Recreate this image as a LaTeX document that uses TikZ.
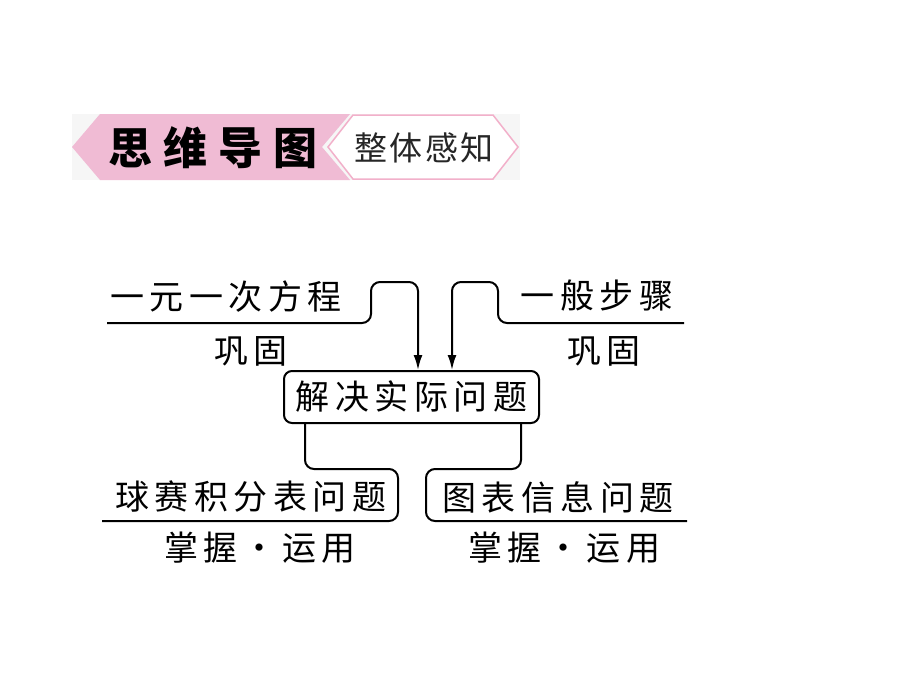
\documentclass[tikz,border=0pt]{standalone}
\usepackage{fontspec}
\setmainfont{Noto Sans CJK SC}
\usetikzlibrary{arrows.meta}
\definecolor{bannerpink}{RGB}{240,187,212}
\definecolor{hexpink}{RGB}{242,176,202}
\definecolor{bggray}{RGB}{246,246,246}
\newcommand\gp{\hspace{5.5pt}}
\tikzset{
  txt/.style={inner sep=0pt, font=\fontsize{34pt}{40pt}\selectfont},
  conn/.style={line width=2pt, rounded corners=9pt},
  arr/.style={conn, -{Latex[length=15pt,width=9pt]}},
  mainbox/.style={txt, draw, line width=2pt, rounded corners=8pt, minimum width=255pt, minimum height=52pt}
}
\begin{document}
\begin{tikzpicture}[x=1pt,y=-1pt]
\useasboundingbox (0,0) rectangle (900,675);
\fill[white] (0,0) rectangle (900,675);
% banner
\fill[bggray] (72,114) rectangle (520,180);
\fill[bannerpink] (72,147) -- (100,114) -- (350,114) -- (322,147) -- (350,180) -- (100,180) -- cycle;
\draw[hexpink, line width=1.5pt, fill=white] (328,147) -- (353,115) -- (493,115) -- (518,147) -- (493,179) -- (353,179) -- cycle;
\node[inner sep=0pt, font=\fontsize{44pt}{50pt}\selectfont\bfseries] (ban1) at (213,148) {思\hspace{11pt}维\hspace{11pt}导\hspace{11pt}图};
\node[inner sep=0pt, font=\fontsize{33pt}{38pt}\selectfont, text=black!85] (ban2) at (424,148) {整\hspace{2.5pt}体\hspace{2.5pt}感\hspace{2.5pt}知};
% texts
\node[txt] (t1) at (226,297) {一\gp 元\gp 一\gp 次\gp 方\gp 程};
\node[txt] (t2) at (251,351) {巩\gp 固};
\node[txt] (t3) at (597,296) {一\gp 般\gp 步\gp 骤};
\node[txt] (t4) at (604,351) {巩\gp 固};
\node[mainbox] (box) at (411.5,397) {解\gp 决\gp 实\gp 际\gp 问\gp 题};
\node[txt] (t5) at (251,497) {球\gp 赛\gp 积\gp 分\gp 表\gp 问\gp 题};
\node[txt] (t6) at (558,497) {图\gp 表\gp 信\gp 息\gp 问\gp 题};
\node[txt] (t7) at (260,548) {掌\gp 握\makebox[45pt]{•}运\gp 用};
\node[txt] (t8) at (564,548) {掌\gp 握\makebox[45pt]{•}运\gp 用};
% connector points
\coordinate (lA) at (107,323);
\coordinate (lB) at (371,323);
\coordinate (lC) at (371,282);
\coordinate (lD) at (418,282);
\coordinate (rA) at (684,323);
\coordinate (rB) at (498,323);
\coordinate (rC) at (498,282);
\coordinate (rD) at (452,282);
\coordinate (bl1) at (305,469);
\coordinate (bl2) at (398,469);
\coordinate (bl3) at (398,521);
\coordinate (bl4) at (102,521);
\coordinate (br1) at (521,469);
\coordinate (br2) at (426,469);
\coordinate (br3) at (426,521);
\coordinate (br4) at (687,521);
% connectors
\draw[arr] (lA) -- (lB) -- (lC) -- (lD) -- (lD |- box.north);
\draw[arr] (rA) -- (rB) -- (rC) -- (rD) -- (rD |- box.north);
\draw[conn] (bl1 |- box.south) -- (bl1) -- (bl2) -- (bl3) -- (bl4);
\draw[conn] (br1 |- box.south) -- (br1) -- (br2) -- (br3) -- (br4);
\end{tikzpicture}
\end{document}
